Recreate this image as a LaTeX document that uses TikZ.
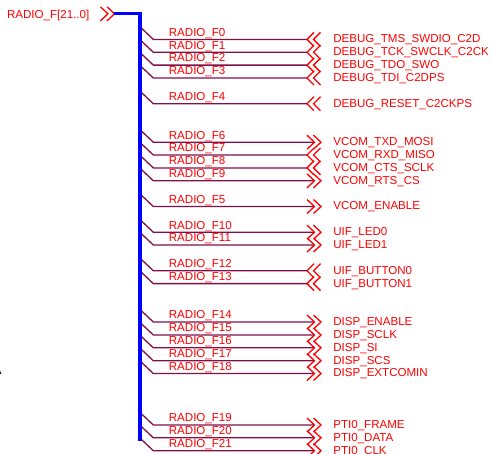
\documentclass[tikz,border=0pt]{standalone}
\usepackage{fontspec}
\setmainfont{Liberation Sans}
\definecolor{wirered}{HTML}{80104A}
\tikzset{
  radio/.style={anchor=base west,inner sep=0pt,text=red,font=\fontsize{6.58}{8}\selectfont},
  bus/.style={blue,line width=0.068cm},
  wire/.style={wirered,line width=0.026cm},
  chev/.style={red,line width=0.026cm},
  chevleft/.pic={
    \draw[chev] (7,-7) -- (0,0) -- (7,7);
    \draw[chev] (13.5,-7) -- (6.5,0) -- (13.5,7);
    \coordinate (-b) at (-165.3,-11);
    \coordinate (-k) at (-153.7,0);
    \coordinate (-e) at (0,0);
    \coordinate (-l) at (-138.5,-3.2);
    \coordinate (-s) at (26,3.4);
  },
  chevright/.pic={
    \draw[chev] (0,-7) -- (7.5,0) -- (0,7);
    \draw[chev] (6.5,-7) -- (14,0) -- (6.5,7);
    \coordinate (-b) at (-165.3,-11);
    \coordinate (-k) at (-153.7,0);
    \coordinate (-e) at (6.5,0);
    \coordinate (-t) at (13,0);
    \coordinate (-l) at (-138.5,-3.2);
    \coordinate (-s) at (26,3.4);
  },
}
\begin{document}
\begin{tikzpicture}[x=0.02cm,y=-0.02cm]
\useasboundingbox (0,0) rectangle (492,453);

\node[radio] (busname) at (6.7,18.4) {RADIO\_F[21..0]};
\pic (port) at (100.5,13.8) {chevright};
\coordinate (bend) at (140,13.8);
\coordinate (busend) at (140,440.5);
\draw[bus] (port-t) -- (bend) -- (busend);

\node[radio,text=black] (edge) at (-6.5,374.5) {A};

\pic (c0) at (307,39.4) {chevleft};
\node[radio] (f0) at (c0-l) {RADIO\_F0};
\node[radio] (s0) at (c0-s) {DEBUG\_TMS\_SWDIO\_C2D};
\draw[wire] (c0-b) -- (c0-k) -- (c0-e);

\pic (c1) at (307,52.3) {chevleft};
\node[radio] (f1) at (c1-l) {RADIO\_F1};
\node[radio] (s1) at (c1-s) {DEBUG\_TCK\_SWCLK\_C2CK};
\draw[wire] (c1-b) -- (c1-k) -- (c1-e);

\pic (c2) at (307,65.1) {chevleft};
\node[radio] (f2) at (c2-l) {RADIO\_F2};
\node[radio] (s2) at (c2-s) {DEBUG\_TDO\_SWO};
\draw[wire] (c2-b) -- (c2-k) -- (c2-e);

\pic (c3) at (307,78) {chevleft};
\node[radio] (f3) at (c3-l) {RADIO\_F3};
\node[radio] (s3) at (c3-s) {DEBUG\_TDI\_C2DPS};
\draw[wire] (c3-b) -- (c3-k) -- (c3-e);

\pic (c4) at (307,103.7) {chevleft};
\node[radio] (f4) at (c4-l) {RADIO\_F4};
\node[radio] (s4) at (c4-s) {DEBUG\_RESET\_C2CKPS};
\draw[wire] (c4-b) -- (c4-k) -- (c4-e);

\pic (c6) at (307,142.2) {chevright};
\node[radio] (f6) at (c6-l) {RADIO\_F6};
\node[radio] (s6) at (c6-s) {VCOM\_TXD\_MOSI};
\draw[wire] (c6-b) -- (c6-k) -- (c6-e);

\pic (c7) at (307,155) {chevleft};
\node[radio] (f7) at (c7-l) {RADIO\_F7};
\node[radio] (s7) at (c7-s) {VCOM\_RXD\_MISO};
\draw[wire] (c7-b) -- (c7-k) -- (c7-e);

\pic (c8) at (307,167.9) {chevleft};
\node[radio] (f8) at (c8-l) {RADIO\_F8};
\node[radio] (s8) at (c8-s) {VCOM\_CTS\_SCLK};
\draw[wire] (c8-b) -- (c8-k) -- (c8-e);

\pic (c9) at (307,180.8) {chevright};
\node[radio] (f9) at (c9-l) {RADIO\_F9};
\node[radio] (s9) at (c9-s) {VCOM\_RTS\_CS};
\draw[wire] (c9-b) -- (c9-k) -- (c9-e);

\pic (c5) at (307,206.5) {chevright};
\node[radio] (f5) at (c5-l) {RADIO\_F5};
\node[radio] (s5) at (c5-s) {VCOM\_ENABLE};
\draw[wire] (c5-b) -- (c5-k) -- (c5-e);

\pic (c10) at (307,232.2) {chevright};
\node[radio] (f10) at (c10-l) {RADIO\_F10};
\node[radio] (s10) at (c10-s) {UIF\_LED0};
\draw[wire] (c10-b) -- (c10-k) -- (c10-e);

\pic (c11) at (307,245) {chevright};
\node[radio] (f11) at (c11-l) {RADIO\_F11};
\node[radio] (s11) at (c11-s) {UIF\_LED1};
\draw[wire] (c11-b) -- (c11-k) -- (c11-e);

\pic (c12) at (307,270.7) {chevleft};
\node[radio] (f12) at (c12-l) {RADIO\_F12};
\node[radio] (s12) at (c12-s) {UIF\_BUTTON0};
\draw[wire] (c12-b) -- (c12-k) -- (c12-e);

\pic (c13) at (307,283.6) {chevleft};
\node[radio] (f13) at (c13-l) {RADIO\_F13};
\node[radio] (s13) at (c13-s) {UIF\_BUTTON1};
\draw[wire] (c13-b) -- (c13-k) -- (c13-e);

\pic (c14) at (307,322) {chevright};
\node[radio] (f14) at (c14-l) {RADIO\_F14};
\node[radio] (s14) at (c14-s) {DISP\_ENABLE};
\draw[wire] (c14-b) -- (c14-k) -- (c14-e);

\pic (c15) at (307,335) {chevright};
\node[radio] (f15) at (c15-l) {RADIO\_F15};
\node[radio] (s15) at (c15-s) {DISP\_SCLK};
\draw[wire] (c15-b) -- (c15-k) -- (c15-e);

\pic (c16) at (307,347.8) {chevright};
\node[radio] (f16) at (c16-l) {RADIO\_F16};
\node[radio] (s16) at (c16-s) {DISP\_SI};
\draw[wire] (c16-b) -- (c16-k) -- (c16-e);

\pic (c17) at (307,360.7) {chevright};
\node[radio] (f17) at (c17-l) {RADIO\_F17};
\node[radio] (s17) at (c17-s) {DISP\_SCS};
\draw[wire] (c17-b) -- (c17-k) -- (c17-e);

\pic (c18) at (307,373.5) {chevright};
\node[radio] (f18) at (c18-l) {RADIO\_F18};
\node[radio] (s18) at (c18-s) {DISP\_EXTCOMIN};
\draw[wire] (c18-b) -- (c18-k) -- (c18-e);

\pic (c19) at (307,425) {chevright};
\node[radio] (f19) at (c19-l) {RADIO\_F19};
\node[radio] (s19) at (c19-s) {PTI0\_FRAME};
\draw[wire] (c19-b) -- (c19-k) -- (c19-e);

\pic (c20) at (307,437.8) {chevright};
\node[radio] (f20) at (c20-l) {RADIO\_F20};
\node[radio] (s20) at (c20-s) {PTI0\_DATA};
\draw[wire] (c20-b) -- (c20-k) -- (c20-e);

\pic (c21) at (307,450.7) {chevright};
\node[radio] (f21) at (c21-l) {RADIO\_F21};
\node[radio] (s21) at (c21-s) {PTI0\_CLK};
\draw[wire] (c21-b) -- (c21-k) -- (c21-e);

\end{tikzpicture}
\end{document}
